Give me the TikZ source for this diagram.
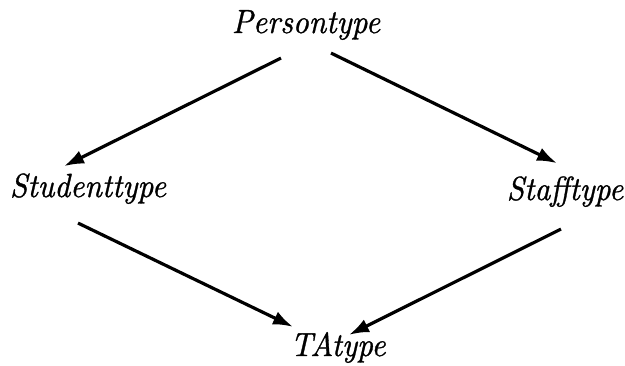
\documentclass[tikz,border=0pt]{standalone}
\usepackage{fontspec}
\newfontfamily\lmti{lmroman10-italic.otf}[FakeBold=1]
\usetikzlibrary{arrows.meta,calc}
\newcommand{\tall}[1]{\scalebox{1}[1.08]{#1}}
\begin{document}
\begin{tikzpicture}[x=1pt,y=-1pt,
  lbl/.style={inner sep=0pt, anchor=base, font=\fontsize{31}{36}\lmti},
  arr/.style={line width=3.2pt, -{Latex[length=20pt,width=14pt]}}]
\useasboundingbox (0,0) rectangle (625,365);
\node[lbl] (P) at (306,33) {\tall{Persontype}};
\node[lbl] (S) at (88,197) {\tall{Studenttype}};
\node[lbl] (F) at (565,200) {\tall{Stafftype}};
\node[lbl] (T) at (338,356) {\tall{TAtype}};
\draw[arr] ($(P.south)+(-25,18)$) -- ($(S.north)+(-24,-7)$);
\draw[arr] ($(P.south)+(25,13)$) -- ($(F.north)+(-8,-13)$);
\draw[arr] ($(S.south)+(-10,19)$) -- ($(T.north)+(-45,-5)$);
\draw[arr] ($(F.south)+(-4,22)$) -- ($(T.north)+(11,3)$);
\end{tikzpicture}
\end{document}
